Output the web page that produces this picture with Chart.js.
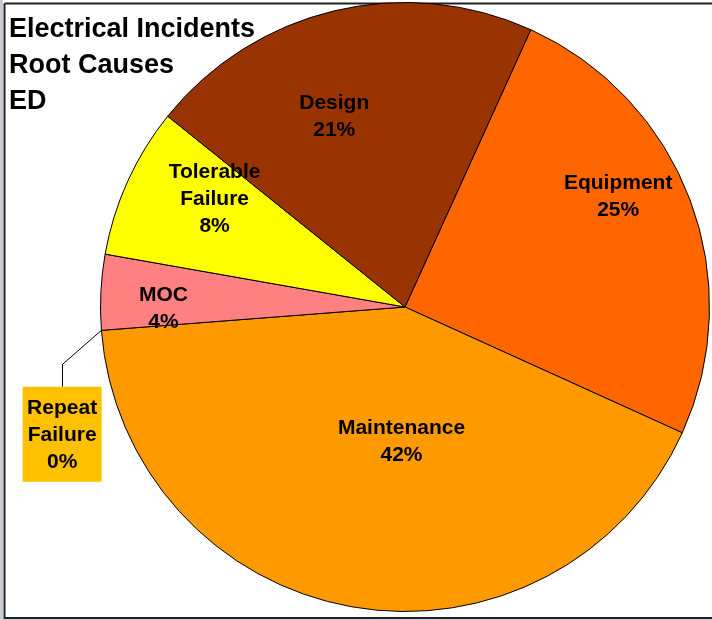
<!DOCTYPE html>
<html>
<head>
<meta charset="utf-8">
<script src="https://cdn.jsdelivr.net/npm/chart.js@4/dist/chart.umd.min.js"></script>
<style>
  html, body { margin: 0; padding: 0; background: #ffffff; }
  #wrap { position: relative; width: 712px; height: 620px; }
  canvas { display: block; }
</style>
</head>
<body>
<div id="wrap"><canvas id="c" width="712" height="620"></canvas></div>
<script>
// ---- data ----
const titleLines = ['Electrical Incidents', 'Root Causes', 'ED'];
const categories = ['Equipment', 'Maintenance', 'Repeat Failure', 'MOC', 'Tolerable Failure', 'Design'];
const labelLines = [['Equipment'], ['Maintenance'], ['Repeat', 'Failure'], ['MOC'], ['Tolerable', 'Failure'], ['Design']];
const values = [25, 42, 0, 4, 8, 21];
const percentLabels = ['25%', '42%', '0%', '4%', '8%', '21%'];

// ---- styling ----
const sliceColors = ['#FF6600', '#FF9900', '#FFC000', '#FF8080', '#FFFF00', '#993300'];
const labelRadius = [0.79, 0.44, 0, 0.793, 0.72, 0.67];
const labelAngleShift = [-7.0, -8.5, 0, -2.9, 5.3, -6.9];
const calloutIndex = 2;

const FONT = '"Liberation Sans", Arial, "DejaVu Sans", sans-serif';

const framePlugin = {
  id: 'frame',
  beforeDraw(chart) {
    const ctx = chart.ctx;
    ctx.save();
    ctx.fillStyle = '#ffffff';
    ctx.fillRect(0, 0, 712, 620);
    ctx.fillStyle = '#c8ccd4';
    ctx.fillRect(0, 0, 3, 620);
    ctx.fillRect(0, 619, 712, 1);
    ctx.strokeStyle = '#222222';
    ctx.lineWidth = 2;
    ctx.beginPath();
    ctx.moveTo(4.5, 3.5);
    ctx.lineTo(714, 3.5);
    ctx.moveTo(4.5, 3.5);
    ctx.lineTo(4.5, 618);
    ctx.lineTo(714, 618);
    ctx.stroke();
    ctx.restore();
  }
};

const labelPlugin = {
  id: 'sliceLabels',
  afterDatasetsDraw(chart) {
    const ctx = chart.ctx;
    const meta = chart.getDatasetMeta(0);
    ctx.save();
    // title
    ctx.fillStyle = '#000000';
    ctx.font = 'bold 27px ' + FONT;
    ctx.textAlign = 'left';
    ctx.textBaseline = 'alphabetic';
    titleLines.forEach((t, i) => ctx.fillText(t, 9, 37 + i * 36));

    ctx.font = 'bold 21px ' + FONT;
    ctx.textAlign = 'center';
    ctx.textBaseline = 'middle';
    const lh = 27;
    meta.data.forEach((arc, i) => {
      const p = arc.getProps(['x', 'y', 'startAngle', 'endAngle', 'outerRadius'], true);
      const lines = labelLines[i].concat([percentLabels[i]]);
      if (i === calloutIndex) {
        // callout box outside the pie
        const a = p.startAngle;
        const ax = p.x + Math.cos(a) * p.outerRadius;
        const ay = p.y + Math.sin(a) * p.outerRadius;
        const bx = p.x - 1.126 * p.outerRadius;
        const by = p.y + 0.418 * p.outerRadius;
        const bw = 79, bh = 95;
        ctx.strokeStyle = '#000000';
        ctx.lineWidth = 1;
        ctx.beginPath();
        ctx.moveTo(ax, ay);
        ctx.lineTo(Math.round(bx) + 0.5, ay + 34);
        ctx.lineTo(Math.round(bx) + 0.5, by - bh / 2);
        ctx.stroke();
        ctx.fillStyle = sliceColors[i];
        ctx.fillRect(bx - bw / 2, by - bh / 2, bw, bh);
        ctx.fillStyle = '#000000';
        lines.forEach((t, k) => ctx.fillText(t, bx, by + 1 + (k - (lines.length - 1) / 2) * lh));
        return;
      }
      const mid = (p.startAngle + p.endAngle) / 2 + labelAngleShift[i] * Math.PI / 180;
      const r = p.outerRadius * labelRadius[i];
      const cx = p.x + Math.cos(mid) * r;
      const cy = p.y + Math.sin(mid) * r;
      ctx.fillStyle = '#000000';
      lines.forEach((t, k) => ctx.fillText(t, cx, cy + 1 + (k - (lines.length - 1) / 2) * lh));
    });
    ctx.restore();
  }
};

new Chart(document.getElementById('c'), {
  type: 'pie',
  data: {
    labels: categories,
    datasets: [{
      data: values,
      backgroundColor: sliceColors,
      borderColor: '#000000',
      borderWidth: 1
    }]
  },
  options: {
    responsive: false,
    devicePixelRatio: 1,
    animation: false,
    rotation: 24.4,
    layout: { padding: { left: 100, top: 2, right: 2, bottom: 8 } },
    plugins: {
      legend: { display: false },
      tooltip: { enabled: false },
      title: { display: false }
    }
  },
  plugins: [framePlugin, labelPlugin]
});
</script>
</body>
</html>
